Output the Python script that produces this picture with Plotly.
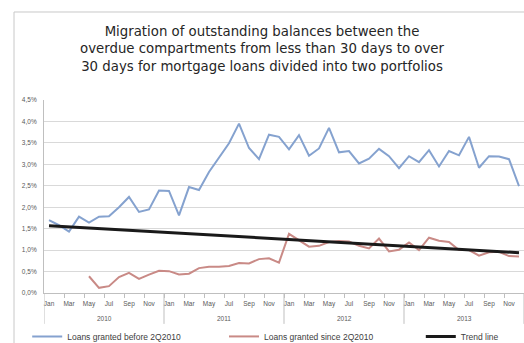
import plotly.graph_objects as go

# Monthly migration rates (%), Jan 2010 - Dec 2013
years = ["2010", "2011", "2012", "2013"]
tick_months = ["Jan", "Mar", "May", "Jul", "Sep", "Nov"]

before_2q2010 = [
    1.70, 1.58, 1.43, 1.78, 1.64, 1.78, 1.79, 2.00, 2.24, 1.89, 1.95, 2.39,
    2.38, 1.81, 2.47, 2.40, 2.82, 3.15, 3.49, 3.95, 3.38, 3.12, 3.69, 3.64,
    3.35, 3.68, 3.20, 3.37, 3.85, 3.28, 3.31, 3.02, 3.13, 3.36, 3.19, 2.91,
    3.19, 3.05, 3.33, 2.95, 3.31, 3.21, 3.64, 2.92, 3.19, 3.18, 3.12, 2.49,
]
since_2q2010 = [
    None, None, None, None, 0.39, 0.12, 0.16, 0.37, 0.47, 0.33, 0.43, 0.52,
    0.51, 0.43, 0.45, 0.58, 0.61, 0.61, 0.63, 0.70, 0.69, 0.79, 0.81, 0.71,
    1.38, 1.22, 1.08, 1.10, 1.19, 1.21, 1.20, 1.10, 1.04, 1.27, 0.97, 1.01,
    1.18, 1.00, 1.29, 1.22, 1.19, 1.00, 1.00, 0.87, 0.95, 0.96, 0.86, 0.85,
]
trend_ends = [1.57, 0.94]

y_ticks = [0.0, 0.5, 1.0, 1.5, 2.0, 2.5, 3.0, 3.5, 4.0, 4.5]
y_tick_labels = ["0,0%", "0,5%", "1,0%", "1,5%", "2,0%", "2,5%", "3,0%", "3,5%", "4,0%", "4,5%"]

n = len(before_2q2010)
x = list(range(n))
months_per_year = n // len(years)

fig = go.Figure()
fig.add_trace(go.Scatter(
    x=x, y=before_2q2010, mode="lines", name="Loans granted before 2Q2010",
    line=dict(color="#85a2cf", width=2), legend="legend",
))
fig.add_trace(go.Scatter(
    x=x, y=since_2q2010, mode="lines", name="Loans granted since 2Q2010",
    line=dict(color="#c98a86", width=2), legend="legend2",
))
fig.add_trace(go.Scatter(
    x=[x[0], x[-1]], y=trend_ends, mode="lines", name="Trend line",
    line=dict(color="#1a1a1a", width=3), legend="legend3",
))

axis_grey = "#bfbfbf"
label_font = dict(family="Liberation Sans", size=6.5, color="#595959")
legend_font = dict(family="Liberation Sans", size=8.5, color="#404040")

# year dividers under the category axis
shapes = []
for k in range(len(years) + 1):
    b = -0.5 + k * months_per_year
    shapes.append(dict(type="line", xref="x", yref="paper", x0=b, x1=b,
                       y0=0, y1=-0.16, line=dict(color=axis_grey, width=1)))
# chart frame
shapes.append(dict(type="rect", xref="paper", yref="paper",
                   x0=-0.0625, x1=1.2, y0=-1.0, y1=1.456,
                   line=dict(color="#c8c8c8", width=1)))

annotations = []
for k, yr in enumerate(years):
    annotations.append(dict(
        text=yr, xref="x", yref="paper",
        x=k * months_per_year + (months_per_year - 1) / 2, y=-0.13,
        yanchor="middle", showarrow=False, font=label_font,
    ))


def legend_box(xpos):
    return dict(
        orientation="h", x=xpos, xanchor="left", y=-0.225, yanchor="middle",
        font=legend_font, bgcolor="rgba(0,0,0,0)",
    )


fig.update_layout(
    width=524, height=343,
    margin=dict(l=44, r=0, t=100, b=50, autoexpand=False),
    paper_bgcolor="white", plot_bgcolor="white",
    title=dict(
        text="Migration of outstanding balances between the<br>"
             "overdue compartments from less than 30 days to over<br>"
             "30 days for mortgage loans divided into two portfolios",
        x=0.5, xanchor="center", y=0.895, yanchor="top", yref="container",
        font=dict(family="DejaVu Sans", size=13.3, color="#262626"),
    ),
    xaxis=dict(
        range=[-0.5, n - 0.5],
        tickmode="array", tickvals=x[::2],
        ticktext=tick_months * len(years),
        tickfont=label_font, ticks="", ticklabelstandoff=4,
        showgrid=False, zeroline=False,
        showline=True, linecolor=axis_grey, linewidth=1,
        minor=dict(tickmode="array", tickvals=[v + 0.5 for v in x[1:-1:2]],
                   ticks="outside", ticklen=4, tickcolor=axis_grey, showgrid=False),
    ),
    yaxis=dict(
        range=[0, 4.5], tickmode="array", tickvals=y_ticks, ticktext=y_tick_labels,
        tickfont=label_font, ticks="", ticklabelstandoff=5,
        showgrid=True, gridcolor="#d9d9d9", gridwidth=1.2, zeroline=False,
        showline=True, linecolor=axis_grey, linewidth=1,
    ),
    legend=legend_box(-0.035),
    legend2=legend_box(0.375),
    legend3=legend_box(0.785),
    shapes=shapes,
    annotations=annotations,
    showlegend=True,
)

fig.write_html("out.html")
